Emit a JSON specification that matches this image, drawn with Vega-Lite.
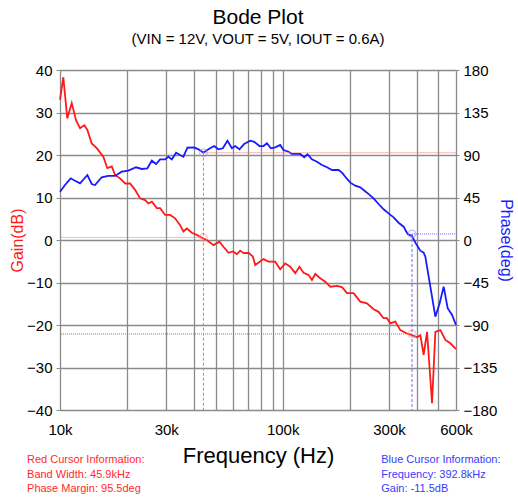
{
  "$schema": "https://vega.github.io/schema/vega-lite/v6.json",
  "width": 396,
  "height": 340,
  "autosize": "none",
  "padding": {"left": 60, "top": 70, "right": 62, "bottom": 92},
  "background": "white",
  "title": {
    "text": "Bode Plot",
    "subtitle": "(VIN = 12V, VOUT = 5V, IOUT = 0.6A)",
    "font": "Liberation Sans",
    "fontSize": 21,
    "fontWeight": "normal",
    "color": "black",
    "subtitleFont": "Liberation Sans",
    "subtitleFontSize": 15,
    "subtitleColor": "black",
    "subtitlePadding": 4,
    "offset": 16,
    "anchor": "middle",
    "frame": "group"
  },
  "config": {
    "view": {"stroke": null},
    "axis": {"labelFont": "Liberation Sans", "titleFont": "Liberation Sans", "labelColor": "black"}
  },
  "datasets": {
    "gain": [
      {"freq": 10000, "gain": 33}, {"freq": 10350, "gain": 38.3}, {"freq": 10780, "gain": 28.6},
      {"freq": 11290, "gain": 32.2}, {"freq": 11800, "gain": 28.2}, {"freq": 12300, "gain": 26.3},
      {"freq": 12860, "gain": 27}, {"freq": 13270, "gain": 25.9}, {"freq": 13880, "gain": 22.7},
      {"freq": 14620, "gain": 21.6}, {"freq": 15650, "gain": 19.6}, {"freq": 16310, "gain": 16.9},
      {"freq": 17080, "gain": 17.3}, {"freq": 17670, "gain": 15.3}, {"freq": 18600, "gain": 14.5},
      {"freq": 19600, "gain": 13.3}, {"freq": 20640, "gain": 13.3}, {"freq": 21730, "gain": 11.8},
      {"freq": 22890, "gain": 9.8}, {"freq": 24100, "gain": 9.4}, {"freq": 24940, "gain": 8.6},
      {"freq": 25840, "gain": 9}, {"freq": 27210, "gain": 7.5}, {"freq": 28150, "gain": 7.5},
      {"freq": 29640, "gain": 5.9}, {"freq": 31220, "gain": 5.9}, {"freq": 32870, "gain": 5.1},
      {"freq": 34620, "gain": 3.5}, {"freq": 35820, "gain": 2.0}, {"freq": 37100, "gain": 2.7},
      {"freq": 39070, "gain": 1.7}, {"freq": 41150, "gain": 1.2}, {"freq": 43780, "gain": 0.4},
      {"freq": 45630, "gain": 0}, {"freq": 48870, "gain": -1.2}, {"freq": 52000, "gain": -0.4},
      {"freq": 54190, "gain": -1.6}, {"freq": 57070, "gain": -3}, {"freq": 59730, "gain": -2.7},
      {"freq": 62260, "gain": -3.3}, {"freq": 64420, "gain": -2.5}, {"freq": 66650, "gain": -3.1},
      {"freq": 70200, "gain": -3}, {"freq": 73470, "gain": -3.9}, {"freq": 75230, "gain": -5.9},
      {"freq": 81980, "gain": -4.5}, {"freq": 86340, "gain": -5.1}, {"freq": 92530, "gain": -5.1},
      {"freq": 97460, "gain": -6.9}, {"freq": 102620, "gain": -5.5}, {"freq": 108070, "gain": -6.3},
      {"freq": 113810, "gain": -7.8}, {"freq": 118990, "gain": -6.3}, {"freq": 124020, "gain": -7.7},
      {"freq": 130620, "gain": -8.2}, {"freq": 135270, "gain": -9.4}, {"freq": 140000, "gain": -8},
      {"freq": 147430, "gain": -9}, {"freq": 155240, "gain": -9.8}, {"freq": 163520, "gain": -11},
      {"freq": 175240, "gain": -10.8}, {"freq": 184560, "gain": -11.1}, {"freq": 194360, "gain": -12.5},
      {"freq": 208120, "gain": -12.5}, {"freq": 223000, "gain": -14.5}, {"freq": 238960, "gain": -14.9},
      {"freq": 255900, "gain": -16.3}, {"freq": 269500, "gain": -16.9}, {"freq": 283790, "gain": -18.4},
      {"freq": 293940, "gain": -18.4}, {"freq": 304160, "gain": -19.6}, {"freq": 320330, "gain": -19.2},
      {"freq": 337370, "gain": -21.2}, {"freq": 361520, "gain": -22}, {"freq": 380730, "gain": -22.4},
      {"freq": 401030, "gain": -22.9}, {"freq": 414950, "gain": -22.4}, {"freq": 429370, "gain": -27},
      {"freq": 444770, "gain": -21.6}, {"freq": 468390, "gain": -38.4}, {"freq": 484650, "gain": -21.6},
      {"freq": 510400, "gain": -21.2}, {"freq": 537470, "gain": -23.5}, {"freq": 566000, "gain": -24.3},
      {"freq": 600000, "gain": -25.7}
    ],
    "phase": [
      {"freq": 10000, "phase": 51.1}, {"freq": 10530, "phase": 58.2}, {"freq": 11170, "phase": 65.3},
      {"freq": 11680, "phase": 62.8}, {"freq": 12300, "phase": 60}, {"freq": 13270, "phase": 68.8},
      {"freq": 13880, "phase": 59.3}, {"freq": 14370, "phase": 58.2}, {"freq": 15390, "phase": 66.4},
      {"freq": 16480, "phase": 67.8}, {"freq": 17670, "phase": 67.8}, {"freq": 18930, "phase": 72.3},
      {"freq": 20280, "phase": 73.4}, {"freq": 21950, "phase": 77}, {"freq": 23290, "phase": 75.2},
      {"freq": 24680, "phase": 75.9}, {"freq": 25840, "phase": 84}, {"freq": 27010, "phase": 80.5},
      {"freq": 28150, "phase": 85.4}, {"freq": 29640, "phase": 85.4}, {"freq": 30670, "phase": 88.2},
      {"freq": 31770, "phase": 85.4}, {"freq": 33210, "phase": 92.4}, {"freq": 34620, "phase": 90},
      {"freq": 35820, "phase": 88.2}, {"freq": 37330, "phase": 97.7}, {"freq": 40020, "phase": 98.1},
      {"freq": 41840, "phase": 96}, {"freq": 44060, "phase": 92.4}, {"freq": 46400, "phase": 96},
      {"freq": 49220, "phase": 99.5}, {"freq": 51460, "phase": 96}, {"freq": 53860, "phase": 97.1},
      {"freq": 56480, "phase": 105.1}, {"freq": 59120, "phase": 97.1}, {"freq": 61170, "phase": 99.5},
      {"freq": 63950, "phase": 96}, {"freq": 67140, "phase": 101.6}, {"freq": 71450, "phase": 105.1},
      {"freq": 74460, "phase": 104}, {"freq": 78650, "phase": 99.5}, {"freq": 81980, "phase": 99.5},
      {"freq": 84920, "phase": 102.4}, {"freq": 88510, "phase": 97.1}, {"freq": 92530, "phase": 98.1},
      {"freq": 97460, "phase": 100.6}, {"freq": 100830, "phase": 95.3}, {"freq": 106190, "phase": 93.5},
      {"freq": 110000, "phase": 91.1}, {"freq": 119890, "phase": 91.1}, {"freq": 124920, "phase": 87.6},
      {"freq": 129270, "phase": 90.7}, {"freq": 135270, "phase": 85.4}, {"freq": 142470, "phase": 82.9},
      {"freq": 150040, "phase": 79.4}, {"freq": 158010, "phase": 77}, {"freq": 166400, "phase": 74.1},
      {"freq": 178140, "phase": 74.1}, {"freq": 184560, "phase": 71.3}, {"freq": 190970, "phase": 67},
      {"freq": 201110, "phase": 60.7}, {"freq": 211800, "phase": 57.5}, {"freq": 223000, "phase": 55.8},
      {"freq": 238960, "phase": 50.1}, {"freq": 255900, "phase": 44.1}, {"freq": 269500, "phase": 38.1},
      {"freq": 283790, "phase": 32.5}, {"freq": 298870, "phase": 28.2}, {"freq": 314770, "phase": 24},
      {"freq": 331490, "phase": 18.3}, {"freq": 349090, "phase": 14.1}, {"freq": 363840, "phase": 6.4},
      {"freq": 380730, "phase": 4.2}, {"freq": 394080, "phase": -2.8}, {"freq": 414950, "phase": -11.3},
      {"freq": 429370, "phase": -13.4}, {"freq": 437000, "phase": -17.7}, {"freq": 460160, "phase": -49.4},
      {"freq": 484650, "phase": -81.2}, {"freq": 506690, "phase": -67}, {"freq": 528140, "phase": -49.4},
      {"freq": 550470, "phase": -72.3}, {"freq": 575960, "phase": -79.4}, {"freq": 600000, "phase": -90}
    ],
    "cursors": [
      {"series": "red", "freq": 44060, "gain": 0.6, "phase": 92.4},
      {"series": "blue", "freq": 380730, "gain": -22.1, "phase": 6.4}
    ],
    "notes": [
      {"cursor": "red", "info": "Red Cursor Information:\nBand Width: 45.9kHz\nPhase Margin: 95.5deg"},
      {"cursor": "blue", "info": "Blue Cursor Information:\nFrequency: 392.8kHz\nGain: -11.5dB"}
    ]
  },
  "layer": [
    {
      "layer": [
        {
          "data": {"name": "gain"},
          "mark": {"type": "line", "color": "#ff1a1a", "strokeWidth": 1.8},
          "encoding": {
            "x": {
              "field": "freq",
              "type": "quantitative",
              "scale": {"type": "log", "domain": [10000, 600000], "nice": false},
              "axis": {
                "values": [10000, 20000, 30000, 40000, 50000, 60000, 70000, 80000, 90000, 100000, 200000, 300000, 400000, 500000, 600000],
                "labelExpr": "datum.value == 10000 ? '10k' : datum.value == 30000 ? '30k' : datum.value == 100000 ? '100k' : datum.value == 300000 ? '300k' : datum.value == 600000 ? '600k' : ''",
                "labelOverlap": false,
                "labelBound": false,
                "labelFlush": false,
                "labelFontSize": 15,
                "labelPadding": 12,
                "grid": true,
                "gridColor": "#8a8a8a",
                "gridWidth": 1.3,
                "ticks": false,
                "domain": false,
                "title": "Frequency (Hz)",
                "titleFontSize": 22,
                "titleFontWeight": "normal",
                "titleColor": "black",
                "titlePadding": 8
              }
            },
            "y": {
              "field": "gain",
              "type": "quantitative",
              "scale": {"domain": [-40, 40], "nice": false},
              "axis": {
                "orient": "left",
                "values": [-40, -30, -20, -10, 0, 10, 20, 30, 40],
                "grid": true,
                "gridColor": "#8a8a8a",
                "gridWidth": 1.3,
                "domain": true,
                "domainColor": "#8a8a8a",
                "ticks": true,
                "tickSize": 4,
                "tickColor": "#8a8a8a",
                "labelFontSize": 15,
                "labelPadding": 4,
                "title": "Gain(dB)",
                "titleColor": "#ff1a1a",
                "titleFontSize": 16,
                "titleFontWeight": "normal",
                "titlePadding": 1
              }
            }
          }
        },
        {
          "data": {"name": "cursors"},
          "mark": {"type": "rule", "strokeDash": [1, 1], "strokeWidth": 1},
          "encoding": {
            "x": {"field": "freq", "type": "quantitative"},
            "x2": {"datum": 10000},
            "y": {"field": "gain", "type": "quantitative"},
            "color": {"field": "series", "type": "nominal", "scale": {"domain": ["red", "blue"], "range": ["#ff6a6a", "#6a6aff"]}, "legend": null}
          }
        },
        {
          "data": {"name": "cursors"},
          "mark": {"type": "point", "filled": false, "size": 60, "color": "#ff9090", "strokeWidth": 1},
          "encoding": {
            "x": {"field": "freq", "type": "quantitative"},
            "y": {"field": "gain", "type": "quantitative"}
          }
        },
        {
          "data": {"name": "notes"},
          "transform": [{"filter": "datum.cursor == 'red'"}],
          "mark": {"type": "text", "align": "left", "baseline": "middle", "font": "Liberation Sans", "fontSize": 11, "lineHeight": 14.5, "lineBreak": "\n", "color": "#ff2a2a", "clip": false},
          "encoding": {
            "x": {"datum": 7113, "type": "quantitative"},
            "y": {"datum": -51.8, "type": "quantitative"},
            "text": {"field": "info", "type": "nominal"}
          }
        },
        {
          "data": {"name": "notes"},
          "transform": [{"filter": "datum.cursor == 'blue'"}],
          "mark": {"type": "text", "align": "left", "baseline": "middle", "font": "Liberation Sans", "fontSize": 11, "lineHeight": 14.5, "lineBreak": "\n", "color": "#3a3aff", "clip": false},
          "encoding": {
            "x": {"datum": 277000, "type": "quantitative"},
            "y": {"datum": -51.8, "type": "quantitative"},
            "text": {"field": "info", "type": "nominal"}
          }
        }
      ]
    },
    {
      "layer": [
        {
          "data": {"name": "phase"},
          "mark": {"type": "line", "color": "#1a1aff", "strokeWidth": 1.8},
          "encoding": {
            "x": {"field": "freq", "type": "quantitative"},
            "y": {
              "field": "phase",
              "type": "quantitative",
              "scale": {"domain": [-180, 180], "nice": false},
              "axis": {
                "orient": "right",
                "values": [-180, -135, -90, -45, 0, 45, 90, 135, 180],
                "grid": false,
                "domain": true,
                "domainColor": "#8a8a8a",
                "ticks": true,
                "tickSize": 3,
                "tickColor": "#8a8a8a",
                "labelFontSize": 15,
                "labelPadding": 4,
                "title": "Phase(deg)",
                "titleColor": "#1a1aff",
                "titleFontSize": 16,
                "titleFontWeight": "normal",
                "titlePadding": 1
              }
            }
          }
        },
        {
          "data": {"name": "cursors"},
          "mark": {"type": "rule", "strokeDash": [1, 1], "strokeWidth": 1},
          "encoding": {
            "x": {"field": "freq", "type": "quantitative"},
            "x2": {"datum": 600000},
            "y": {"field": "phase", "type": "quantitative"},
            "color": {"field": "series", "type": "nominal", "scale": {"domain": ["red", "blue"], "range": ["#ff6a6a", "#6a6aff"]}, "legend": null}
          }
        },
        {
          "data": {"name": "cursors"},
          "mark": {"type": "rule", "strokeDash": [3, 2], "strokeWidth": 1},
          "encoding": {
            "x": {"field": "freq", "type": "quantitative"},
            "y": {"field": "phase", "type": "quantitative"},
            "y2": {"datum": -180},
            "color": {"field": "series", "type": "nominal", "scale": {"domain": ["red", "blue"], "range": ["#ff6a6a", "#6a6aff"]}, "legend": null}
          }
        },
        {
          "data": {"name": "cursors"},
          "mark": {"type": "point", "filled": false, "size": 60, "color": "#9090ff", "strokeWidth": 1},
          "encoding": {
            "x": {"field": "freq", "type": "quantitative"},
            "y": {"field": "phase", "type": "quantitative"}
          }
        }
      ]
    }
  ],
  "resolve": {"scale": {"y": "independent"}}
}
